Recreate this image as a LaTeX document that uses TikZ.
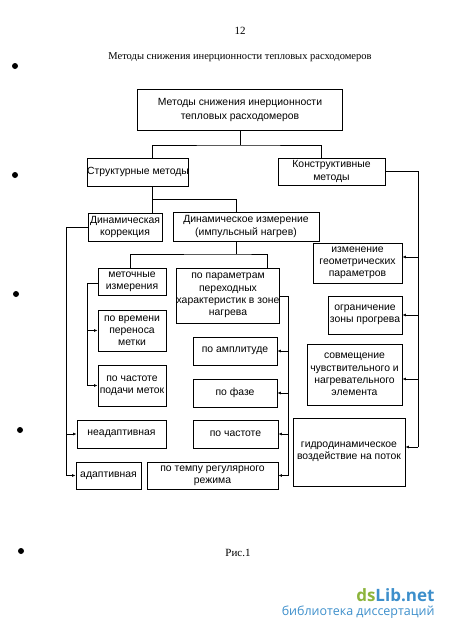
\documentclass[tikz,border=0pt]{standalone}
\usepackage{fontspec}
\setmainfont{Liberation Serif}
\newfontfamily\boxfont{Liberation Sans}
\newfontfamily\wmfont{Open Sans}
\usetikzlibrary{arrows.meta}
\definecolor{wmgreen}{HTML}{8CB43C}
\definecolor{wmblue}{HTML}{3D8FCB}
\begin{document}
\begin{tikzpicture}[x=1pt,y=-1pt,
  bx/.style={draw,line width=0.9pt,inner sep=0pt,align=center,
    font=\boxfont\fontsize{10.4}{12.2}\selectfont},
  ln/.style={line width=0.9pt},
  ar/.style={line width=0.9pt,-{Latex[length=3.5pt,width=3pt]}},
  dot/.style={fill=black,circle,inner sep=0pt,minimum size=6pt}]
\useasboundingbox (0,0) rectangle (450,632);
% page texts
\node[font=\fontsize{11}{13}\selectfont] (pnum) at (240,31) {12};
\node[font=\fontsize{10.5}{13}\selectfont] (title) at (240,57) {Методы снижения инерционности тепловых расходомеров};
\node[font=\fontsize{11}{13}\selectfont] (fig) at (238,553) {Рис.1};
% dots
\node[dot] (d1) at (15,66) {};
\node[dot] (d2) at (15,175) {};
\node[dot] (d3) at (16,294) {};
\node[dot] (d4) at (20,430) {};
\node[dot] (d5) at (21,551) {};
% boxes
\node[bx,minimum width=205pt,minimum height=41pt,font=\boxfont\fontsize{10.4}{14}\selectfont] (top) at (240,109.5) {Методы снижения инерционности\\тепловых расходомеров};
\node[bx,minimum width=100pt,minimum height=28pt] (struct) at (138,172) {Структурные методы};
\node[bx,minimum width=107pt,minimum height=27pt] (constr) at (331.5,171.5) {Конструктивные\\методы};
\node[bx,minimum width=74pt,minimum height=28pt] (dyncorr) at (125,227) {Динамическая\\коррекция};
\node[bx,minimum width=146pt,minimum height=29pt] (dynmeas) at (246,226.5) {Динамическое измерение\\(импульсный нагрев)};
\node[bx,minimum width=68pt,minimum height=27pt] (metoch) at (132,281.5) {меточные\\измерения};
\node[bx,minimum width=100pt,minimum height=55pt] (param) at (228,295.5) {по параметрам\\переходных\\характеристик в зоне\\нагрева};
\node[bx,minimum width=68pt,minimum height=41pt] (vremya) at (132,330.5) {по времени\\переноса\\метки};
\node[bx,minimum width=68pt,minimum height=41pt] (chastpod) at (132,385.5) {по частоте\\подачи меток};
\node[bx,minimum width=84pt,minimum height=28pt] (ampl) at (235,351) {по амплитуде};
\node[bx,minimum width=84pt,minimum height=28pt] (faza) at (235,393) {по фазе};
\node[bx,minimum width=89pt,minimum height=40pt] (geom) at (357.5,263) {изменение\\геометрических\\параметров};
\node[bx,minimum width=74pt,minimum height=38pt] (ogr) at (365,315) {ограничение\\зоны прогрева};
\node[bx,minimum width=95pt,minimum height=61pt] (sovm) at (354.5,374.5) {совмещение\\чувствительного и\\нагревательного\\элемента};
\node[bx,minimum width=112pt,minimum height=68pt] (gidro) at (349,452) {гидродинамическое\\воздействие на поток};
\node[bx,minimum width=89pt,minimum height=28pt] (neadapt) at (121.5,434) {неадаптивная};
\node[bx,minimum width=65pt,minimum height=27pt] (adapt) at (108.5,475.5) {адаптивная};
\node[bx,minimum width=85pt,minimum height=28pt] (chastota) at (235.5,434) {по частоте};
\node[bx,minimum width=131pt,minimum height=27pt] (tempo) at (212.5,475.5) {по темпу регулярного\\режима};
% connectors: tree
\coordinate (j1) at (240,145);
\draw[ln] (top.south) -- (j1);
\draw[ln] (struct.north -| 152,0) |- (j1) -| (constr.north -| 321,0);
\coordinate (j2) at (152,199);
\draw[ln] (struct.south -| 152,0) -- (dyncorr.north -| 152,0);
\draw[ln] (j2) -| (dynmeas.north -| 236,0);
\coordinate (j3) at (236,254);
\draw[ln] (dynmeas.south -| 236,0) -- (j3);
\draw[ln] (metoch.north -| 130,0) |- (j3) -| (param.north -| 267,0);
% left bus from dyncorr
\coordinate (b1) at (66,227);
\coordinate (b1e) at (66,475.5);
\draw[ln] (dyncorr.west) -- (b1) -- (b1e);
\draw[ar] (66,434) -- (neadapt.west);
\draw[ar] (b1e) -- (adapt.west);
% bus from metoch
\coordinate (b2) at (87,283);
\coordinate (b2e) at (87,385.5);
\draw[ln] (metoch.west |- b2) -- (b2) -- (b2e);
\draw[ar] (87,330.5) -- (vremya.west);
\draw[ar] (b2e) -- (chastpod.west);
% bus from param
\coordinate (b3) at (288,296);
\coordinate (b3e) at (288,475.5);
\draw[ln] (param.east |- b3) -- (b3) -- (b3e);
\draw[ar] (288,351) -- (ampl.east);
\draw[ar] (288,393) -- (faza.east);
\draw[ar] (288,434) -- (chastota.east);
\draw[ar] (b3e) -- (tempo.east);
% bus from constr
\coordinate (b4) at (418,171.5);
\coordinate (b4e) at (418,447);
\draw[ln] (constr.east) -- (b4) -- (b4e);
\draw[ar] (418,257) -- (geom.east |- 0,257);
\draw[ar] (418,315) -- (ogr.east);
\draw[ar] (418,379) -- (sovm.east |- 0,379);
\draw[ar] (b4e) -- (gidro.east |- 0,447);
% watermark
\node[anchor=east,font=\wmfont\bfseries\fontsize{17}{20}\selectfont] (wm1) at (438,595) {\textcolor{wmgreen}{ds}\textcolor{wmblue}{Lib.net}};
\node[anchor=east,font=\wmfont\fontsize{12.5}{15}\selectfont,text=wmblue] (wm2) at (438,612) {библиотека диссертаций};
\end{tikzpicture}
\end{document}
